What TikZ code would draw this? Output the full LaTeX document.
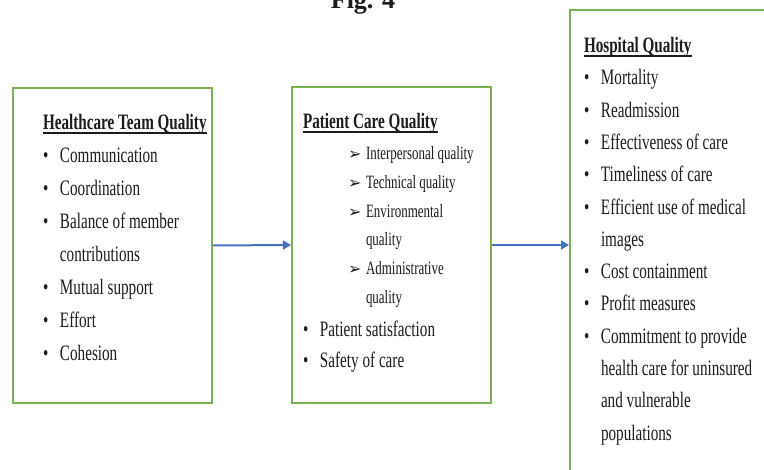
\documentclass[tikz,border=0pt]{standalone}
\usepackage{fontspec}
\setmainfont[FakeStretch=0.69]{Liberation Serif}
\newfontfamily\capfont{Liberation Serif}
\newfontfamily\dingfont{DejaVu Sans}
\usetikzlibrary{arrows.meta}

\definecolor{boxgreen}{RGB}{118,178,80}
\definecolor{flowblue}{RGB}{70,114,196}
\definecolor{ink}{RGB}{28,28,28}

% heading with a heavy underline
\newcommand\headul[1]{\setbox0\hbox{\bfseries #1}\rlap{\rule[-3.6pt]{\wd0}{1.8pt}}\box0}
% bullet item, continuation line, arrow sub-item
\newcommand\bul[1]{\makebox[17pt][l]{•}#1}
\newcommand\cnt[1]{\hspace*{17pt}#1}
\newcommand\sub[1]{\makebox[18pt][l]{\dingfont\fontsize{16}{16}\selectfont ➢}#1}

\tikzset{
  qbox/.style={draw=boxgreen, line width=2pt, fill=white, inner sep=0pt},
  txt/.style={anchor=base west, inner sep=0pt, outer sep=0pt, text=ink,
    font=\fontsize{22}{26}\selectfont},
  subtxt/.style={txt, font=\fontsize{18.8}{22}\selectfont},
  flow/.style={draw=flowblue, line width=2pt,
    -{Triangle[length=8pt, width=9pt]}}
}

\begin{document}
\begin{tikzpicture}[x=1pt, y=-1pt]
\useasboundingbox (0,0) rectangle (764,470);
\clip (0,0) rectangle (764,470);

% caption
\node[anchor=base, inner sep=0pt, text=ink, font=\capfont\bfseries\fontsize{26}{30}\selectfont]
  (fig) at (363,9) {Fig. 4};

% the three quality boxes
\node[qbox, minimum width=199pt, minimum height=315pt] (team) at (112.5,245.5) {};
\node[qbox, minimum width=199pt, minimum height=316pt] (care) at (391.5,245) {};
\node[qbox, minimum width=220pt, minimum height=490pt] (hosp) at (680,255) {};

% connectors
\draw[flow] (team.east) -- (care.west);
\draw[flow] (care.east) -- (care.east -| hosp.west);

% Healthcare Team Quality
\node[txt] (team-h) at (43,130) {\headul{Healthcare Team Quality}};
\foreach \y/\t [count=\i] in {163/\bul{Communication}, 196/\bul{Coordination},
    229/\bul{Balance of member}, 262/\cnt{contributions}, 295/\bul{Mutual support},
    328/\bul{Effort}, 361/\bul{Cohesion}}
  \node[txt] (team-\i) at (43,\y) {\t};

% Patient Care Quality
\node[txt] (care-h) at (303,129) {\headul{Patient Care Quality}};
\foreach \y/\t [count=\i] in {160/\sub{Interpersonal quality}, 188.7/\sub{Technical quality},
    217.4/\sub{Environmental}, 246/\hspace*{18pt}quality, 274.7/\sub{Administrative},
    303.4/\hspace*{18pt}quality}
  \node[subtxt] (care-s\i) at (348,\y) {\t};
\node[txt] (care-1) at (303,337) {\bul{Patient satisfaction}};
\node[txt] (care-2) at (303,368) {\bul{Safety of care}};

% Hospital Quality
\node[txt] (hosp-h) at (584,53) {\headul{Hospital Quality}};
\foreach \y/\t [count=\i] in {85/\bul{Mortality}, 117.3/\bul{Readmission},
    149.6/\bul{Effectiveness of care}, 182/\bul{Timeliness of care},
    214.3/\bul{Efficient use of medical}, 246.6/\cnt{images},
    279/\bul{Cost containment}, 311/\bul{Profit measures},
    343.6/\bul{Commitment to provide}, 376/\cnt{health care for uninsured},
    408/\cnt{and vulnerable}, 440.6/\cnt{populations}}
  \node[txt] (hosp-\i) at (584,\y) {\t};
\end{tikzpicture}
\end{document}
